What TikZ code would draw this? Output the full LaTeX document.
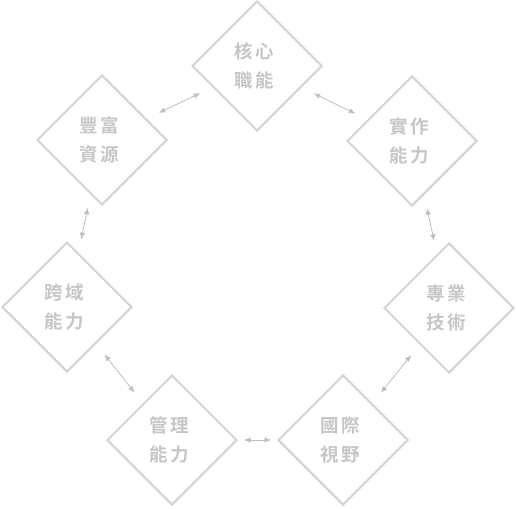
\documentclass[tikz,border=0pt]{standalone}
\usepackage{fontspec}
\newfontfamily\cjk[BoldFont={Noto Sans CJK TC Bold}]{Noto Sans CJK TC}
\usetikzlibrary{shapes.geometric,arrows.meta}
\definecolor{dline}{HTML}{D3D3D3}
\definecolor{dtext}{HTML}{C6C6C6}
\definecolor{aline}{HTML}{BEBEBE}
\newcommand{\pairtxt}[4]{#1\kern2.5pt#2\kern5pt\\#3\kern2.5pt#4\kern5pt}
\tikzset{
  dia/.style={diamond, draw=dline, line width=2pt, minimum width=130pt, minimum height=130pt, inner sep=0pt, align=center, text=dtext, font={\cjk\bfseries\fontsize{18.5}{29}\selectfont}},
  link/.style={draw=aline, line width=0.8pt, {Latex[length=6.5pt,width=5.5pt]}-{Latex[length=6.5pt,width=5.5pt]}, shorten <=13.5pt, shorten >=13.5pt},
}
\begin{document}
\begin{tikzpicture}[x=1pt,y=-1pt]
\useasboundingbox (0,0) rectangle (516,508);
\node[dia] (a) at (257,66) {\pairtxt{核}{心}{職}{能}};
\node[dia] (b) at (412,141) {\pairtxt{實}{作}{能}{力}};
\node[dia] (c) at (449,308) {\pairtxt{專}{業}{技}{術}};
\node[dia] (d) at (343,440) {\pairtxt{國}{際}{視}{野}};
\node[dia] (e) at (172,440) {\pairtxt{管}{理}{能}{力}};
\node[dia] (f) at (67,307) {\pairtxt{跨}{域}{能}{力}};
\node[dia] (g) at (102,140) {\pairtxt{豐}{富}{資}{源}};
\draw[link] (a) -- (b);
\draw[link] (b) -- (c);
\draw[link] (c) -- (d);
\draw[link, shorten <=6pt, shorten >=6pt] (d) -- (e);
\draw[link] (e) -- (f);
\draw[link] (f) -- (g);
\draw[link] (g) -- (a);
\end{tikzpicture}
\end{document}
